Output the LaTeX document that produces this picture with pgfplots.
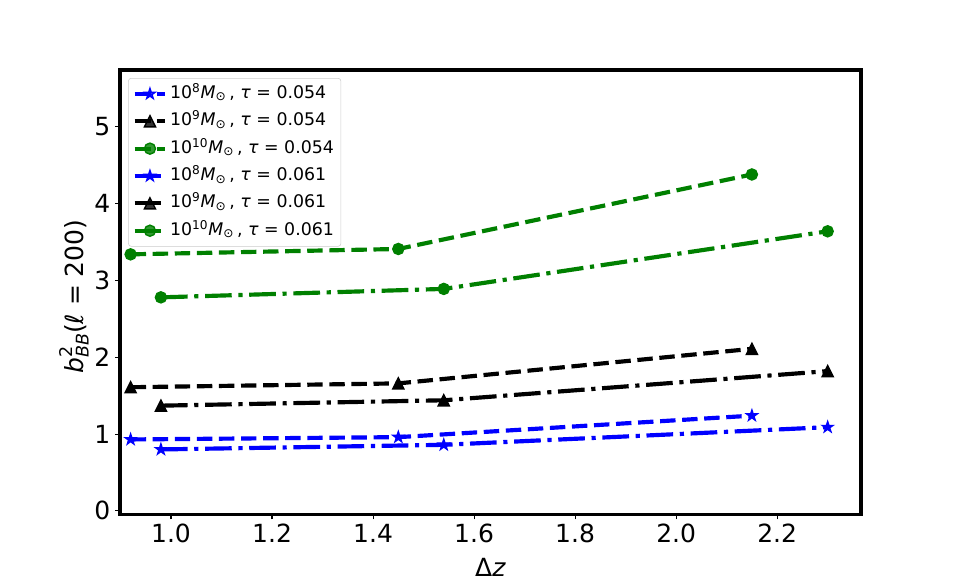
\documentclass[border=0pt]{standalone}
\usepackage{fontspec}
\setmainfont{DejaVu Sans}
\usepackage{pgfplots}
\pgfplotsset{compat=1.18}
\definecolor{mgreen}{rgb}{0,0.5,0}
\makeatletter
\pgfdeclareplotmark{mtri}{%
  \pgfpathmoveto{\pgfqpoint{0pt}{\pgfplotmarksize}}%
  \pgfpathlineto{\pgfqpoint{-\pgfplotmarksize}{-\pgfplotmarksize}}%
  \pgfpathlineto{\pgfqpoint{\pgfplotmarksize}{-\pgfplotmarksize}}%
  \pgfpathclose\pgfusepathqfillstroke}
\pgfdeclareplotmark{mstar}{%
  \pgfmathsetlength{\pgf@xa}{0.381966*\pgfplotmarksize}%
  \edef\rin{\the\pgf@xa}%
  \pgfpathmoveto{\pgfqpointpolar{90}{\pgfplotmarksize}}%
  \pgfpathlineto{\pgfqpointpolar{126}{\rin}}%
  \pgfpathlineto{\pgfqpointpolar{162}{\pgfplotmarksize}}%
  \pgfpathlineto{\pgfqpointpolar{198}{\rin}}%
  \pgfpathlineto{\pgfqpointpolar{234}{\pgfplotmarksize}}%
  \pgfpathlineto{\pgfqpointpolar{270}{\rin}}%
  \pgfpathlineto{\pgfqpointpolar{306}{\pgfplotmarksize}}%
  \pgfpathlineto{\pgfqpointpolar{342}{\rin}}%
  \pgfpathlineto{\pgfqpointpolar{18}{\pgfplotmarksize}}%
  \pgfpathlineto{\pgfqpointpolar{54}{\rin}}%
  \pgfpathclose\pgfusepathqfillstroke}
\makeatother
\newcommand{\msun}[1]{10\textsuperscript{#1}\textit{M}\textsubscript{⊙}\,, \textit{τ} = }
\tikzset{
  mdash/.style={dash pattern=on 11.1pt off 4.8pt},
  mdashdot/.style={dash pattern=on 19.2pt off 4.8pt on 3pt off 4.8pt},
}
\begin{document}
\begin{tikzpicture}
\useasboundingbox (0,0) rectangle (689.04pt,423.36pt);
\begin{axis}[
  at={(86.4pt,52.92pt)}, anchor=south west,
  scale only axis, width=533.52pt, height=320.04pt,
  xmin=0.899, xmax=2.366, ymin=-0.047, ymax=5.74,
  xtick={1.0,1.2,1.4,1.6,1.8,2.0,2.2},
  ytick={0,1,2,3,4,5},
  xticklabel style={/pgf/number format/.cd, fixed, fixed zerofill, precision=1},
  /pgf/number format/assume math mode=true,
  tick label style={font=\fontsize{18}{20}\selectfont},
  tick pos=left, tick align=outside, major tick length=3.5pt,
  every tick/.style={black, line width=0.8pt},
  axis line style={line width=2.4pt},
  scaled ticks=false,
  xlabel={Δ\textit{z}},
  ylabel={\textit{b}\rlap{\raisebox{0.42em}{\fontsize{12.6}{14}\selectfont 2}}\raisebox{-0.22em}{\fontsize{12.6}{14}\selectfont\textit{BB}}(\textit{ℓ} = 200)},
  every axis x label/.style={at={(axis description cs:0.5,-0.118)}, anchor=center, font=\fontsize{18}{20}\selectfont},
  every axis y label/.style={at={(axis description cs:-0.062,0.49)}, anchor=center, rotate=90, font=\fontsize{18}{20}\selectfont},
  legend style={at={(0.011,0.982)}, anchor=north west, draw=black!20, rounded corners=2pt,
    fill=white, fill opacity=0.8, text opacity=1, font=\fontsize{12.5}{14}\selectfont,
    inner xsep=3pt, inner ysep=2.5pt, row sep=2.2pt,
    nodes={text height=10pt, text depth=3.5pt, inner sep=2pt}},
  legend cell align=left,
  legend image code/.code={\draw[mark repeat=2, mark phase=2] plot coordinates {(0pt,0pt) (11pt,0pt) (22pt,0pt)};},
  every axis plot/.append style={line width=3pt, mark size=4pt},
]
\addplot[blue, mdash, mark=mstar, mark options={solid, line width=1pt, draw=blue, fill=blue}] coordinates {(0.92,0.93) (1.45,0.96) (2.15,1.24)};
\addlegendentry{\msun{8}0.054}
\addplot[black, mdash, mark=mtri, mark options={solid, line width=1pt, draw=black, fill=black}] coordinates {(0.92,1.61) (1.45,1.66) (2.15,2.11)};
\addlegendentry{\msun{9}0.054}
\addplot[mgreen, mdash, mark=*, mark options={solid, line width=1pt, draw=mgreen, fill=mgreen}] coordinates {(0.92,3.34) (1.45,3.41) (2.15,4.38)};
\addlegendentry{\msun{10}0.054}
\addplot[blue, mdashdot, mark=mstar, mark options={solid, line width=1pt, draw=blue, fill=blue}] coordinates {(0.98,0.80) (1.54,0.86) (2.30,1.09)};
\addlegendentry{\msun{8}0.061}
\addplot[black, mdashdot, mark=mtri, mark options={solid, line width=1pt, draw=black, fill=black}] coordinates {(0.98,1.37) (1.54,1.44) (2.30,1.82)};
\addlegendentry{\msun{9}0.061}
\addplot[mgreen, mdashdot, mark=*, mark options={solid, line width=1pt, draw=mgreen, fill=mgreen}] coordinates {(0.98,2.78) (1.54,2.89) (2.30,3.64)};
\addlegendentry{\msun{10}0.061}
\end{axis}
\end{tikzpicture}
\end{document}
